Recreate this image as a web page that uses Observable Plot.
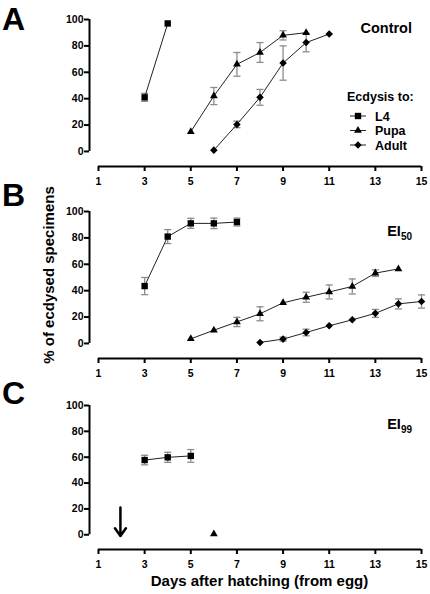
<!DOCTYPE html>
<html><head><meta charset="utf-8">
<script src="https://cdn.jsdelivr.net/npm/d3@7"></script>
<script src="https://cdn.jsdelivr.net/npm/@observablehq/plot@0.6"></script>
<style>
html,body{margin:0;padding:0;background:#fff;}
#root{position:relative;width:430px;height:594px;overflow:hidden;font-family:"Liberation Sans",Arial,Helvetica,sans-serif;font-weight:bold;}
#root > svg{position:absolute;left:0;}
</style></head><body><div id="root"></div>
<script>
// ---------- data ----------
const xTicks = [1, 3, 5, 7, 9, 11, 13, 15];
const yTicks = [0, 20, 40, 60, 80, 100];
const stages = ["L4", "Pupa", "Adult"];
const panelLetters = ["A", "B", "C"];
const panelTitles = ["Control", "EI", "EI"];
const panelSubs = ["", "50", "99"];
const legendTitle = "Ecdysis to:";
const yTitle = "% of ecdysed specimens";
const xTitle = "Days after hatching (from egg)";

// Panel A: Control
const ctrlL4Day = [3, 4];
const ctrlL4Pct = [41, 97];
const ctrlL4Err = [3, 0];
const ctrlPupaDay = [5, 6, 7, 8, 9, 10];
const ctrlPupaPct = [15, 42, 66, 75, 88, 90];
const ctrlPupaErr = [0, 6.5, 9, 7.5, 3.5, 0];
const ctrlAdultDay = [6, 7, 8, 9, 10, 11];
const ctrlAdultPct = [1, 20.5, 41, 67, 82.5, 89];
const ctrlAdultErr = [0, 2.5, 6, 13, 7, 0];

// Panel B: EI50
const ei50L4Day = [3, 4, 5, 6, 7];
const ei50L4Pct = [43.5, 81, 91, 91, 92];
const ei50L4Err = [6.5, 5.3, 3.8, 4, 3];
const ei50PupaDay = [5, 6, 7, 8, 9, 10, 11, 12, 13, 14];
const ei50PupaPct = [3.5, 10, 16.3, 22.5, 30.8, 35, 39, 43.2, 53.3, 56.5];
const ei50PupaErr = [0, 0, 3.5, 5.3, 0, 3.8, 5.3, 5.7, 2.5, 0];
const ei50AdultDay = [8, 9, 10, 11, 12, 13, 14, 15];
const ei50AdultPct = [0.8, 3.3, 8.3, 13.4, 17.9, 22.8, 30, 31.8];
const ei50AdultErr = [0, 1.5, 2.5, 0, 0, 3, 3.8, 5];

// Panel C: EI99
const ei99L4Day = [3, 4, 5];
const ei99L4Pct = [57.8, 59.9, 61];
const ei99L4Err = [3.7, 3.9, 4.9];
const ei99PupaDay = [6];
const ei99PupaPct = [0.5];
const ei99PupaErr = [0];
const ei99AdultDay = [];
const ei99AdultPct = [];
const ei99AdultErr = [];

// annotation arrow in panel C (treatment day)
const arrowDay = [1.95];
const arrowFrom = [21];
const arrowTo = [-1];

// ---------- helpers ----------
function rows(day, pct, err, stage) {
  return day.map((d, i) => ({day: d, pct: pct[i], err: err[i], stage}));
}
const panelsData = [
  [rows(ctrlL4Day, ctrlL4Pct, ctrlL4Err, "L4"), rows(ctrlPupaDay, ctrlPupaPct, ctrlPupaErr, "Pupa"), rows(ctrlAdultDay, ctrlAdultPct, ctrlAdultErr, "Adult")].flat(),
  [rows(ei50L4Day, ei50L4Pct, ei50L4Err, "L4"), rows(ei50PupaDay, ei50PupaPct, ei50PupaErr, "Pupa"), rows(ei50AdultDay, ei50AdultPct, ei50AdultErr, "Adult")].flat(),
  [rows(ei99L4Day, ei99L4Pct, ei99L4Err, "L4"), rows(ei99PupaDay, ei99PupaPct, ei99PupaErr, "Pupa"), rows(ei99AdultDay, ei99AdultPct, ei99AdultErr, "Adult")].flat()
];
const arrows = arrowDay.map((d, i) => ({day: d, from: arrowFrom[i], to: arrowTo[i]}));

const SYM = {L4: "square", Pupa: "triangle", Adult: "diamond2"};
const R = {L4: 3.6, Pupa: 2.9, Adult: 3.4};
const D3SYM = {L4: d3.symbolSquare, Pupa: d3.symbolTriangle, Adult: d3.symbolDiamond2};
const capSymbol = {draw(ctx, size) { const w = Math.sqrt(size) / 2; ctx.moveTo(-w, 0); ctx.lineTo(w, 0); }};

const FONT = "Liberation Sans, Arial, Helvetica, sans-serif";
const X_MIN = 0.61, Y_MIN = -11.4;
const tops = [0, 192, 386];
const frameH = [147, 147, 144];
const root = document.getElementById("root");

panelsData.forEach((data, p) => {
  const errRows = data.filter(d => d.err > 0);
  const marks = [
    Plot.ruleX([X_MIN], {y1: yTicks[0], y2: yTicks[yTicks.length - 1], stroke: "black", strokeWidth: 2}),
    Plot.ruleY([Y_MIN], {x1: xTicks[0], x2: xTicks[xTicks.length - 1], stroke: "black", strokeWidth: 2}),
    Plot.axisX(xTicks, {tickSize: 5, tickPadding: 6, strokeWidth: 2, label: null, tickFormat: d => d}),
    Plot.axisY(yTicks, {tickSize: 5, tickPadding: 1, strokeWidth: 2, label: null, tickFormat: d => d}),
    Plot.ruleX(errRows, {x: "day", y1: d => d.pct - d.err, y2: d => d.pct + d.err, stroke: "#8c8c8c", strokeWidth: 1.3}),
    Plot.dot(errRows, {x: "day", y: d => d.pct - d.err, symbol: capSymbol, r: 4, stroke: "#8c8c8c", strokeWidth: 1.3, fill: "none"}),
    Plot.dot(errRows, {x: "day", y: d => d.pct + d.err, symbol: capSymbol, r: 4, stroke: "#8c8c8c", strokeWidth: 1.3, fill: "none"}),
    Plot.line(data, {x: "day", y: "pct", z: "stage", stroke: "#222", strokeWidth: 1})
  ];
  stages.forEach(s => {
    marks.push(Plot.dot(data.filter(d => d.stage === s), {x: "day", y: "pct", symbol: SYM[s], r: R[s], fill: "black", stroke: "none"}));
  });
  if (p === 2) {
    marks.push(Plot.arrow(arrows, {x1: "day", x2: "day", y1: "from", y2: "to", stroke: "black", strokeWidth: 2.5, headLength: 9, headAngle: 70}));
  }
  const chart = Plot.plot({
    width: 430,
    height: 19 + frameH[p] + 26,
    marginLeft: 89, marginRight: 9, marginTop: 19, marginBottom: 26,
    x: {domain: [X_MIN, 15]},
    y: {domain: [Y_MIN, 100]},
    style: {fontFamily: FONT, fontSize: "10.5px", fontWeight: "bold", background: "transparent", overflow: "visible", color: "black"},
    marks
  });
  chart.style.top = tops[p] + "px";
  root.appendChild(chart);
});

// ---------- overlay texts ----------
const ov = d3.select(root).append("svg")
  .attr("width", 430).attr("height", 594)
  .style("top", "0px").style("pointer-events", "none")
  .style("font-family", FONT).style("font-weight", "bold");

const letterBase = [30, 206, 404];
panelLetters.forEach((L, i) => {
  ov.append("text").attr("x", 2).attr("y", letterBase[i]).attr("font-size", 32).text(L);
});
const titleBase = [33, 236, 429];
panelTitles.forEach((t, i) => {
  const tx = ov.append("text").attr("x", 412).attr("y", titleBase[i]).attr("text-anchor", "end").attr("font-size", 14.5);
  tx.append("tspan").text(t);
  if (panelSubs[i]) tx.append("tspan").attr("dy", 4).attr("font-size", 10).text(panelSubs[i]);
});

// legend
ov.append("text").attr("x", 347).attr("y", 101).attr("font-size", 12.5).text(legendTitle);
const legY = [116, 130.5, 145];
stages.forEach((s, i) => {
  const g = ov.append("g").attr("transform", `translate(0,${legY[i]})`);
  g.append("line").attr("x1", 350).attr("x2", 366).attr("stroke", "#222").attr("stroke-width", 1);
  g.append("path").attr("transform", "translate(358,0)")
    .attr("d", d3.symbol(D3SYM[s], Math.PI * R[s] * R[s])()).attr("fill", "black");
  g.append("text").attr("x", 375).attr("y", 4.5).attr("font-size", 12.5).text(s);
});

// axis titles
ov.append("text").attr("transform", "translate(54,275) rotate(-90)").attr("text-anchor", "middle").attr("font-size", 15).text(yTitle);
ov.append("text").attr("x", 259.5).attr("y", 586).attr("text-anchor", "middle").attr("font-size", 15).text(xTitle);
</script>
</body></html>
